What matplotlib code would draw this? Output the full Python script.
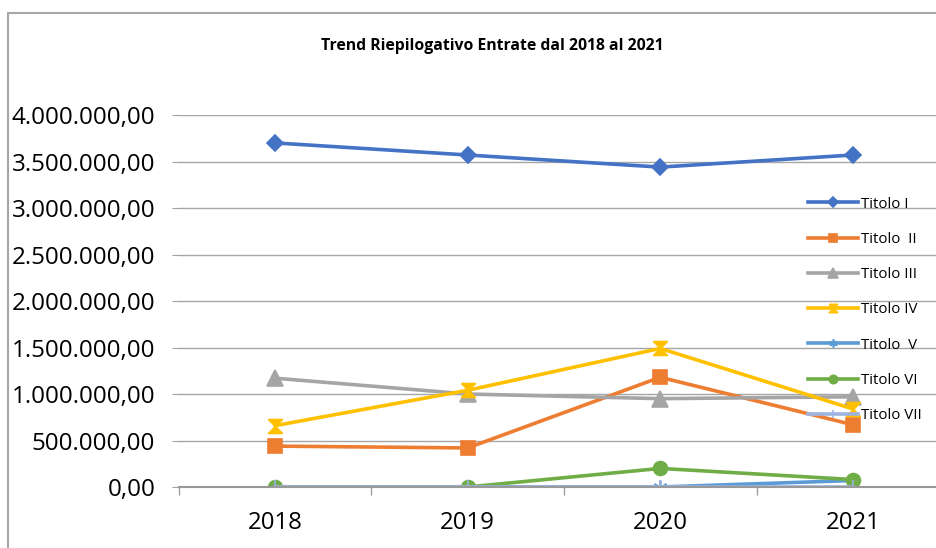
import matplotlib
matplotlib.use("Agg")
import matplotlib.pyplot as plt
from matplotlib.patches import Rectangle
from matplotlib.ticker import FuncFormatter

# dati
anni = ["2018", "2019", "2020", "2021"]
titolo_1 = [3700000, 3570000, 3440000, 3570000]
titolo_2 = [440000, 420000, 1180000, 670000]
titolo_3 = [1170000, 1000000, 950000, 970000]
titolo_4 = [660000, 1040000, 1490000, 840000]
titolo_5 = [0, 0, 0, 70000]
titolo_6 = [0, 0, 200000, 80000]
titolo_7 = [0, 0, 0, 0]
etichette = ["Titolo I", "Titolo  II", "Titolo III", "Titolo IV",
             "Titolo  V", "Titolo VI", "Titolo VII"]

plt.rcParams['font.family'] = ['Open Sans', 'DejaVu Sans']

fig = plt.figure(figsize=(9.36, 5.48), dpi=100)
ax = fig.add_axes([0.191, 0.1113, 0.823, 0.6788])

hourglass = [(-1, 1), (1, 1), (-1, -1), (1, -1), (-1, 1)]
serie = [
    (titolo_1, "#4472C4", "D", 8),
    (titolo_2, "#ED7D31", "s", 10),
    (titolo_3, "#A5A5A5", "^", 11),
    (titolo_4, "#FFC000", hourglass, 10),
    (titolo_5, "#5B9BD5", (6, 2, 0), 10),
    (titolo_6, "#70AD47", "o", 10),
    (titolo_7, "#9DB3E0", "|", 10),
]
x = range(len(anni))
for (vals, col, mk, ms), lab in zip(serie, etichette):
    ax.plot(x, vals, color=col, linewidth=2.6, marker=mk, markersize=ms,
            markeredgecolor=col, markeredgewidth=1.2, label=lab)

ax.set_ylim(0, 4000000)
ax.set_yticks(range(0, 4000001, 500000))
ax.yaxis.set_major_formatter(FuncFormatter(
    lambda v, p: "{:,.2f}".format(v).replace(",", "X").replace(".", ",").replace("X", ".")))
ax.set_xlim(-0.5, 3.5)
ax.set_xticks(list(x))
ax.set_xticklabels(anni)
ax.set_xticks([-0.5, 0.5, 1.5, 2.5, 3.5], minor=True)
ax.tick_params(axis="x", which="major", length=0, labelsize=17.3, pad=17)
ax.tick_params(axis="x", which="minor", length=6, color="#A0A0A0", width=1)
ax.tick_params(axis="y", length=5, color="#A0A0A0", labelsize=17.4, pad=12)
ax.grid(axis="y", color="#A6A6A6", linewidth=1)
for s in ["top", "right", "left"]:
    ax.spines[s].set_visible(False)
ax.spines["bottom"].set_color("#999999")
ax.spines["bottom"].set_linewidth(1.5)
ax.set_axisbelow(True)

fig.text(0.526, 0.916, "Trend Riepilogativo Entrate dal 2018 al 2021",
         ha="center", va="center", fontsize=11.3, fontweight="bold")

ax.legend(loc="upper left", bbox_to_anchor=(0.863, 0.641),
          bbox_transform=fig.transFigure, frameon=False, fontsize=10.8,
          handlelength=3.33, handletextpad=0.25, labelspacing=1.35,
          borderaxespad=0, borderpad=0, markerscale=0.6)

fig.add_artist(Rectangle((0.0085, -0.1), 1.2, 1.076, transform=fig.transFigure,
                         fill=False, edgecolor="#A6A6A6", linewidth=1.5))

fig.savefig("out.png", dpi=100)
